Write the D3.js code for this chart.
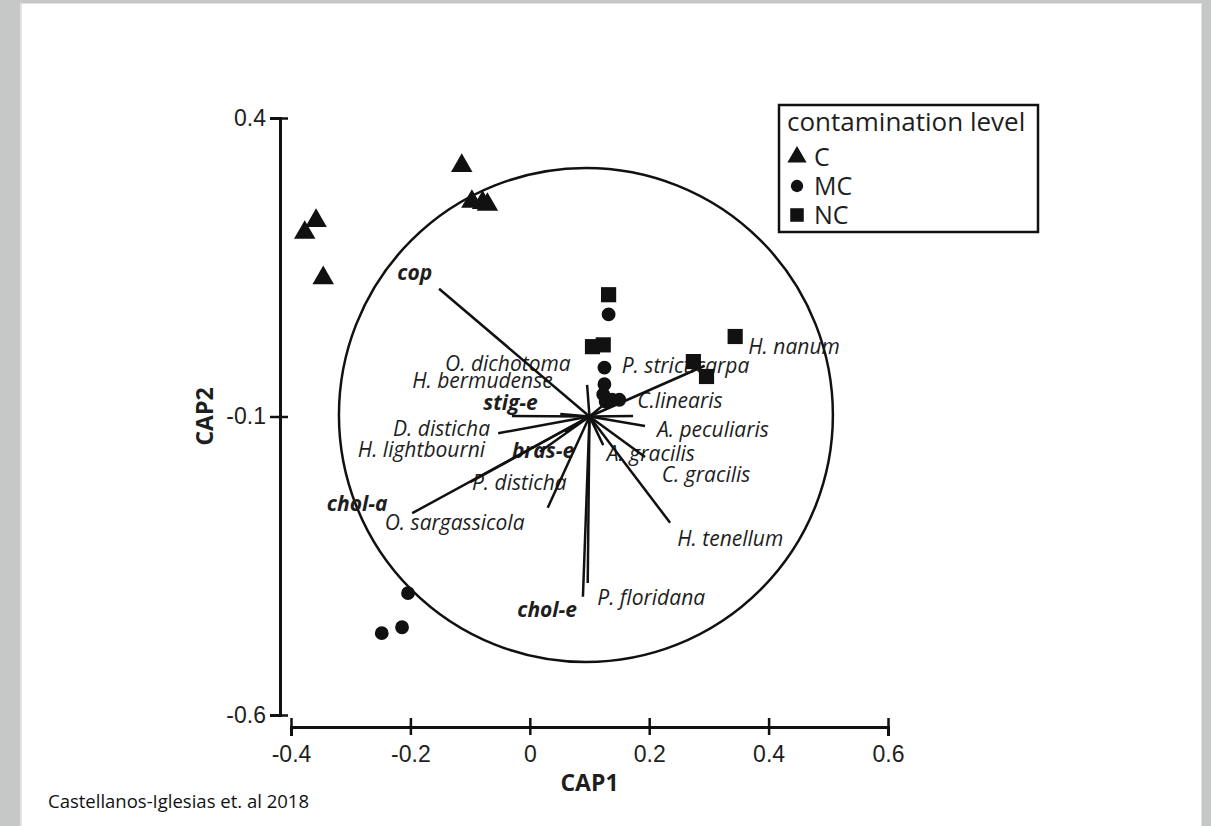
<!DOCTYPE html>
<html>
<head>
<meta charset="utf-8">
<script src="https://cdn.jsdelivr.net/npm/d3@7"></script>
<style>
  html, body { margin: 0; padding: 0; background: #c6c7c7; }
  #chart { width: 1211px; height: 826px; }
</style>
</head>
<body>
<div id="chart"></div>
<script>
// site scores (CAP1, CAP2)
const sitesC = [[-0.377, 0.208], [-0.358, 0.228], [-0.346, 0.132], [-0.114, 0.320],
  [-0.097, 0.260], [-0.079, 0.258], [-0.071, 0.255]];
const sitesMC = [[0.132, 0.071], [0.125, -0.018], [0.125, -0.046], [0.123, -0.063],
  [0.127, -0.075], [0.138, -0.072], [0.150, -0.072], [-0.204, -0.396], [-0.214, -0.453], [-0.248, -0.463]];
const sitesNC = [[0.132, 0.104], [0.105, 0.017], [0.123, 0.020], [0.344, 0.034],
  [0.274, -0.008], [0.296, -0.033]];

// correlation vectors, drawn from a common origin
const vectorOrigin = [0.1, -0.1];
const vectorNames = ['cop', 'O. dichotoma', 'H. bermudense', 'stig-e', 'D. disticha', 'H. lightbourni',
  'bras-e', 'chol-a', 'O. sargassicola', 'P. disticha', 'chol-e', 'P. floridana', 'H. tenellum',
  'C. gracilis', 'A. gracilis', 'A. peculiaris', 'C.linearis', 'P. stricticarpa', 'H. nanum'];
const vectorBold = [true, false, false, true, false, false, true, true, false, false, true,
  false, false, false, false, false, false, false, false];
const vectorX = [-0.152, 0.096, 0.051, -0.030, -0.053, 0.017, 0.059, -0.197, -0.100, 0.030, 0.089,
  0.097, 0.235, 0.193, 0.123, 0.193, 0.173, 0.123, 0.293];
const vectorY = [0.114, -0.047, -0.096, -0.099, -0.128, -0.159, -0.126, -0.262, -0.210, -0.253, -0.402,
  -0.379, -0.278, -0.168, -0.148, -0.116, -0.099, -0.081, -0.015];
// where each label starts (left end, baseline)
const labelX = [-0.222, -0.142, -0.197, -0.078, -0.229, -0.288, -0.030, -0.340, -0.243, -0.097, -0.021,
  0.113, 0.247, 0.221, 0.129, 0.213, 0.180, 0.154, 0.366];
const labelY = [0.129, -0.024, -0.052, -0.089, -0.133, -0.168, -0.170, -0.258, -0.290, -0.223, -0.436,
  -0.416, -0.317, -0.210, -0.175, -0.134, -0.086, -0.027, 0.005];

// equilibrium circle
const circleCenter = [0.094, -0.0975];
const circleRadius = 0.4137;

const xTicks = [-0.4, -0.2, 0, 0.2, 0.4, 0.6];
const yTicks = [0.4, -0.1, -0.6];
const legendTitle = 'contamination level';
const legendLabels = ['C', 'MC', 'NC'];
const credit = 'Castellanos-Iglesias et. al 2018';

const width = 1211, height = 826;
const svg = d3.select('#chart').append('svg')
  .attr('width', width)
  .attr('height', height)
  .style('font-family', '"Open Sans", sans-serif');

// page
svg.append('rect')
  .attr('x', 20).attr('y', 3).attr('width', 1182).attr('height', 830)
  .attr('fill', '#e2e2e2');
svg.append('rect')
  .attr('x', 22).attr('y', 4).attr('width', 1179).attr('height', 830)
  .attr('fill', '#ffffff');

const x = d3.scaleLinear().domain([-0.4, 0.6]).range([291, 888]);
const y = d3.scaleLinear().domain([-0.6, 0.4]).range([715, 118]);
const ink = '#111';
const textInk = '#1e1e1e';

// Y axis
const yAxis = svg.append('g')
  .attr('transform', 'translate(280,0)')
  .call(d3.axisLeft(y).tickValues(yTicks).tickSize(10).tickPadding(5).tickFormat(d => String(d)));
yAxis.select('.domain').attr('stroke', ink).attr('stroke-width', 3);
yAxis.selectAll('.tick line').attr('stroke', ink).attr('stroke-width', 2.5).attr('x2', 8).attr('x1', -10);
yAxis.selectAll('.tick text').attr('fill', textInk).attr('font-size', '23px').attr('x', -14);

// X axis
const xAxis = svg.append('g')
  .attr('transform', 'translate(0,727)')
  .call(d3.axisBottom(x).tickValues(xTicks).tickSize(9).tickPadding(10).tickFormat(d => String(d)));
xAxis.select('.domain').attr('stroke', ink).attr('stroke-width', 3);
xAxis.selectAll('.tick line').attr('stroke', ink).attr('stroke-width', 2.5).attr('y1', -9).attr('y2', 8);
xAxis.selectAll('.tick text').attr('fill', textInk).attr('font-size', '23px').attr('dy', '0.68em');

svg.append('text')
  .attr('x', (x(-0.4) + x(0.6)) / 2).attr('y', 791)
  .attr('text-anchor', 'middle').attr('font-weight', 'bold').attr('font-size', '23px')
  .attr('fill', textInk).text('CAP1');

svg.append('text')
  .attr('transform', `translate(213,${y(-0.1)}) rotate(-90)`)
  .attr('text-anchor', 'middle').attr('font-weight', 'bold').attr('font-size', '23px')
  .attr('fill', textInk).text('CAP2');

// circle
svg.append('circle')
  .attr('cx', x(circleCenter[0])).attr('cy', y(circleCenter[1]))
  .attr('r', x(circleCenter[0] + circleRadius) - x(circleCenter[0]))
  .attr('fill', 'none').attr('stroke', ink).attr('stroke-width', 2.5);

// labels
svg.append('g').selectAll('text')
  .data(vectorNames)
  .enter().append('text')
  .attr('x', (d, i) => x(labelX[i]))
  .attr('y', (d, i) => y(labelY[i]))
  .attr('font-style', 'italic')
  .attr('font-weight', (d, i) => vectorBold[i] ? 'bold' : 'normal')
  .attr('font-size', '21px')
  .attr('fill', textInk)
  .text(d => d);

// vectors
svg.append('g').selectAll('line')
  .data(vectorNames)
  .enter().append('line')
  .attr('x1', x(vectorOrigin[0])).attr('y1', y(vectorOrigin[1]))
  .attr('x2', (d, i) => x(vectorX[i]))
  .attr('y2', (d, i) => y(vectorY[i]))
  .attr('stroke', ink).attr('stroke-width', 2.5);

// site points
const groups = [
  { data: sitesC, shape: d3.symbolTriangle, size: 200 },
  { data: sitesMC, shape: d3.symbolCircle, size: 150 },
  { data: sitesNC, shape: d3.symbolSquare, size: 230 }
];
groups.forEach(g => {
  svg.append('g').selectAll('path')
    .data(g.data)
    .enter().append('path')
    .attr('transform', d => `translate(${x(d[0])},${y(d[1])})`)
    .attr('d', d3.symbol().type(g.shape).size(g.size))
    .attr('fill', ink);
});

// legend
const legend = svg.append('g').attr('transform', 'translate(779,105)');
legend.append('rect')
  .attr('width', 259).attr('height', 127)
  .attr('fill', '#fff').attr('stroke', ink).attr('stroke-width', 2.5);
legend.append('text')
  .attr('x', 8).attr('y', 26).attr('font-size', '26px').attr('fill', textInk)
  .text(legendTitle);
legendLabels.forEach((lab, i) => {
  const cy = 52 + i * 29;
  legend.append('path')
    .attr('transform', `translate(18,${cy})`)
    .attr('d', d3.symbol().type(groups[i].shape).size(groups[i].size * 0.8))
    .attr('fill', ink);
  legend.append('text')
    .attr('x', 35).attr('y', cy + 9).attr('font-size', '25px').attr('fill', textInk)
    .text(lab);
});

// credit
svg.append('text')
  .attr('x', 48).attr('y', 808).attr('font-size', '18.5px').attr('fill', '#111')
  .text(credit);
</script>
</body>
</html>
